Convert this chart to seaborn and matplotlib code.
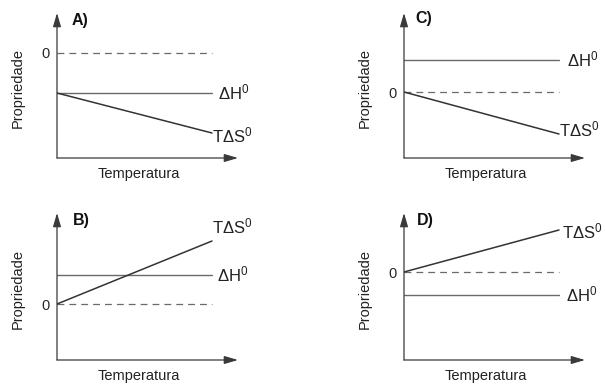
import matplotlib
matplotlib.use("Agg")
import matplotlib.pyplot as plt
import seaborn as sns
import pandas as pd

# ---------------- data ----------------
temperature = [0.0, 1.0]
zero_line = [0.0, 0.0]

panel_names = ["A)", "B)", "C)", "D)"]
dH_A = [-1.0, -1.0]
TdS_A = [-1.0, -2.0]
dH_B = [0.725, 0.725]
TdS_B = [0.0, 1.575]
dH_C = [0.8, 0.8]
TdS_C = [0.0, -1.05]
dH_D = [-0.575, -0.575]
TdS_D = [0.0, 1.05]

x_label = "Temperatura"
y_label = "Propriedade"
zero_tick_label = "0"
dH_label = "ΔH$^{\\mathregular{0}}$"
TdS_label = "TΔS$^{\\mathregular{0}}$"

# ---------------- style ----------------
sns.set_style("white")
plt.rcParams["font.family"] = ["Liberation Sans", "DejaVu Sans"]
plt.rcParams["mathtext.fontset"] = "custom"
plt.rcParams["mathtext.rm"] = "Liberation Sans"
plt.rcParams["mathtext.it"] = "Liberation Sans"

fig = plt.figure(figsize=(6.05, 3.85), dpi=100)
W, H = 605, 385


def px_axes(left, top, right, bottom):
    return fig.add_axes([left / W, 1 - bottom / H, (right - left) / W, (bottom - top) / H])


# layout: axes box (px), ylim, label offsets (px), title pos (axes frac)
layout = {
    "A)": dict(box=(57, 13, 238, 158), ylim=(-2.625, 1.0),
               dh_off=(6, -6), tds_off=(0, -9), title=(0.083, 0.945)),
    "C)": dict(box=(404, 13, 585, 158), ylim=(-1.65, 1.975),
               dh_off=(8, -6), tds_off=(0, -2), title=(0.061, 0.959)),
    "B)": dict(box=(57, 213, 238, 360), ylim=(-1.4, 2.275),
               dh_off=(5, -6), tds_off=(0, 8), title=(0.088, 0.946)),
    "D)": dict(box=(404, 213, 585, 360), ylim=(-2.2, 1.475),
               dh_off=(7, -6), tds_off=(3, -8), title=(0.072, 0.946)),
}
series = {"A)": (dH_A, TdS_A), "B)": (dH_B, TdS_B),
          "C)": (dH_C, TdS_C), "D)": (dH_D, TdS_D)}

axis_color = "#3a3a3a"
dh_color = "#6a6a6a"
tds_color = "#333333"
zero_color = "#6a6a6a"

for name in panel_names:
    L = layout[name]
    dH, TdS = series[name]
    ax = px_axes(*L["box"])
    df = pd.DataFrame({"T": temperature, "zero": zero_line, "dH": dH, "TdS": TdS})

    sns.lineplot(data=df, x="T", y="zero", ax=ax, color=zero_color, lw=0.9,
                 linestyle=(0, (5.5, 4)))
    sns.lineplot(data=df, x="T", y="dH", ax=ax, color=dh_color, lw=1.0)
    sns.lineplot(data=df, x="T", y="TdS", ax=ax, color=tds_color, lw=1.1)

    ax.set_xlim(0, 181 / 155)
    ax.set_ylim(*L["ylim"])
    for s in ax.spines.values():
        s.set_visible(False)
    ax.set_xticks([])
    ax.set_yticks([0])
    ax.set_yticklabels([zero_tick_label], fontsize=10.5)
    ax.tick_params(axis="y", length=0, pad=5)
    ax.set_xlabel("")
    ax.set_ylabel("")
    ax.grid(False)
    ax.set_facecolor("none")

    arrow = dict(arrowstyle="-|>,head_length=0.75,head_width=0.22", color=axis_color,
                 lw=0.9, shrinkA=0, shrinkB=0, mutation_scale=11)
    ax.annotate("", xy=(0, 1), xytext=(0, 0), xycoords="axes fraction",
                arrowprops=arrow, annotation_clip=False)
    ax.annotate("", xy=(1, 0), xytext=(0, 0), xycoords="axes fraction",
                arrowprops=arrow, annotation_clip=False)

    ax.annotate(dH_label, xy=(temperature[-1], dH[-1]), xytext=L["dh_off"],
                textcoords="offset pixels", ha="left", va="baseline",
                fontsize=12, color="#222222", annotation_clip=False)
    ax.annotate(TdS_label, xy=(temperature[-1], TdS[-1]), xytext=L["tds_off"],
                textcoords="offset pixels", ha="left", va="baseline",
                fontsize=12, color="#222222", annotation_clip=False)

    tx, ty = L["title"]
    ax.text(tx, ty, name, transform=ax.transAxes, ha="left", va="center",
            fontsize=11.5, fontweight="bold", color="#111111")
    ax.text(0.45, -0.108, x_label, transform=ax.transAxes, ha="center",
            va="center", fontsize=10.5, color="#222222")
    ax.text(-0.216, 0.48, y_label, transform=ax.transAxes, ha="center",
            va="center", rotation=90, fontsize=10.5, color="#222222")

fig.savefig("out.png", dpi=100)
